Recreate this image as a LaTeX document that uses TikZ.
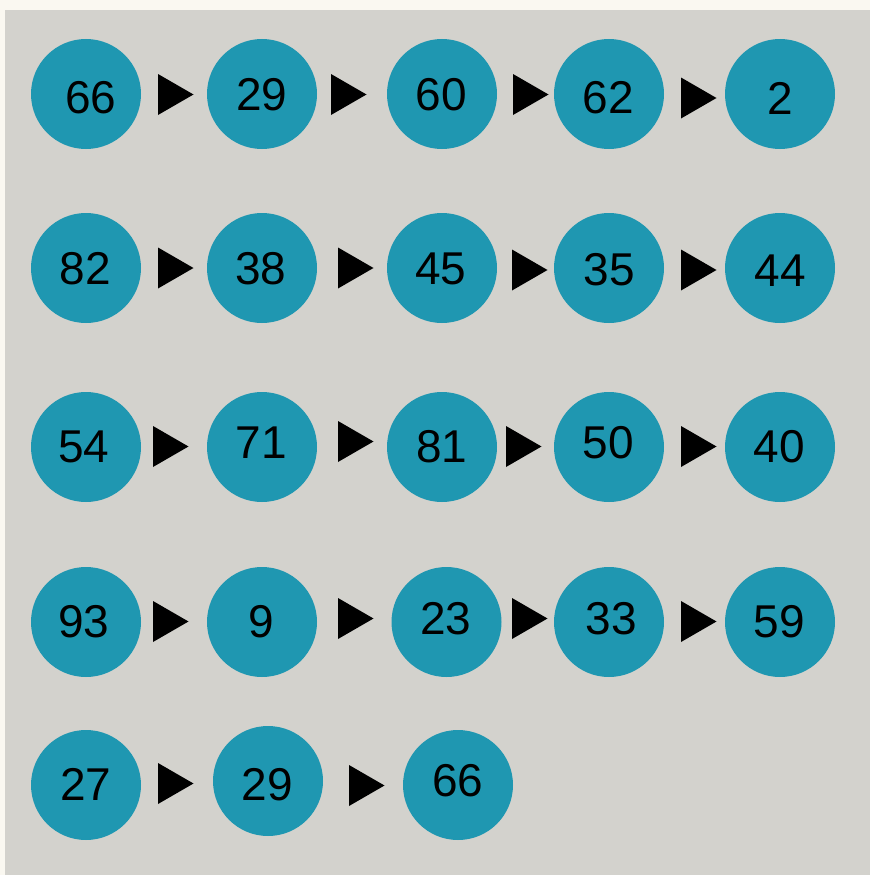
\documentclass[tikz,border=0pt]{standalone}
\usepackage{fontspec}
\setmainfont{Liberation Sans}
\definecolor{cream}{HTML}{FAF8F1}
\definecolor{panel}{HTML}{D3D2CD}
\definecolor{teal}{HTML}{1F97B1}
\newcommand{\ballnode}[6]{%
  \node[ball] (#1) at (#2,#3) {};
  \node[lbl] (#1t) at (#4,#5) {#6};}
\newcommand{\tipshape}[2]{%
  \fill[tipstyle] (#1,#2-20.5) -- (#1+35.5,#2) -- (#1,#2+20.5) -- cycle;}
\begin{document}
\begin{tikzpicture}[x=1pt,y=-1pt,
  ball/.style={circle,fill=teal,draw=none,minimum size=110pt,inner sep=0pt},
  lbl/.style={inner sep=0pt,text=black,font=\fontsize{46}{50}\selectfont},
  tipstyle/.style={fill=black}]
\useasboundingbox (0,0) rectangle (870,875);
\fill[cream] (0,0) rectangle (870,875);
\fill[panel] (5,10) rectangle (870,875);
% row 1
\ballnode{a1}{86}{94}{91}{97.5}{66}
\ballnode{a2}{262}{94}{262}{95}{29}
\ballnode{a3}{442}{94}{441.5}{95}{60}
\ballnode{a4}{609}{94}{608}{98}{62}
\ballnode{a5}{780}{94}{780}{98.5}{2}
\tipshape{158}{94.5}\tipshape{331}{94.5}\tipshape{513}{94.5}\tipshape{681}{98}
% row 2
\ballnode{b1}{86}{268}{85.5}{269}{82}
\ballnode{b2}{262}{268}{261}{269}{38}
\ballnode{b3}{442}{268}{441}{269}{45}
\ballnode{b4}{609}{268}{609}{270}{35}
\ballnode{b5}{780}{268}{780}{271}{44}
\tipshape{158}{268}\tipshape{338}{268}\tipshape{512}{270}\tipshape{681}{270}
% row 3
\ballnode{c1}{86}{447}{84}{446.5}{54}
\ballnode{c2}{262}{447}{261.5}{442.5}{71}
\ballnode{c3}{442}{447}{442}{446.5}{81}
\ballnode{c4}{609}{447}{608.5}{442.5}{50}
\ballnode{c5}{780}{447}{779}{447}{40}
\tipshape{153}{446.5}\tipshape{338}{441.5}\tipshape{506}{446.5}\tipshape{681}{446.5}
% row 4
\ballnode{d1}{86}{622}{84}{621.5}{93}
\ballnode{d2}{262}{622}{261}{621.5}{9}
\ballnode{d3}{446.5}{622}{446}{618.5}{23}
\ballnode{d4}{609}{622}{611.5}{618.5}{33}
\ballnode{d5}{780}{622}{779}{622}{59}
\tipshape{153}{621.5}\tipshape{338}{618.5}\tipshape{512}{618.5}\tipshape{681}{621.5}
% row 5
\ballnode{e1}{86}{785}{86}{784.5}{27}
\ballnode{e2}{268}{781}{267.5}{784.5}{29}
\ballnode{e3}{458}{785}{458}{781}{66}
\tipshape{158}{783.5}\tipshape{349}{785.5}
\end{tikzpicture}
\end{document}
